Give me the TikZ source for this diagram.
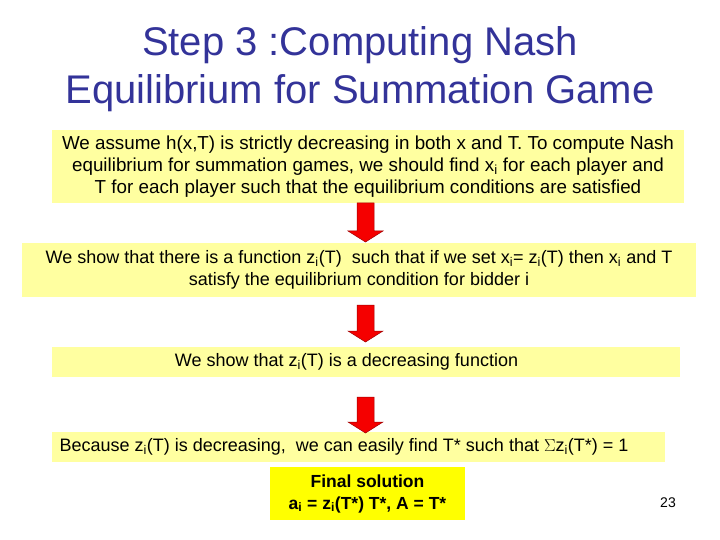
\documentclass[tikz,border=0pt]{standalone}
\usepackage{fontspec}
\setmainfont{Liberation Sans}
\usetikzlibrary{calc}
\definecolor{titleblue}{RGB}{51,51,153}
\definecolor{paleyellow}{RGB}{255,255,160}
\definecolor{brightyellow}{RGB}{255,255,0}
\definecolor{arrowred}{RGB}{245,0,0}
\newcommand{\sbi}{\textsubscript{i}}
\tikzset{
  stepbox/.style={fill=paleyellow, draw=none, align=center, inner sep=0pt, font=\fontsize{18}{22}\selectfont},
  finalbox/.style={fill=brightyellow, draw=none, align=center, inner sep=0pt, font=\fontsize{17.5}{22}\selectfont\bfseries},
  fatarrow/.style={fill=arrowred, draw=arrowred!65!black, line width=0.5pt, line join=miter},
  titletext/.style={text=titleblue, align=center, font=\fontsize{40}{48}\selectfont}
}
\begin{document}
\begin{tikzpicture}[x=1pt,y=-1pt]
\useasboundingbox (0,0) rectangle (720,540);
\node[titletext] (title) at (360,69) {Step 3 :Computing Nash\\Equilibrium for Summation Game};
\node[stepbox, font=\fontsize{18.8}{22}\selectfont, minimum width=632pt, minimum height=73pt] (b1) at (368,166.5)
  {We assume h(x,T) is strictly decreasing in both x and T. To compute Nash\\
   equilibrium for summation games, we should find x\sbi{} for each player and\\
   T for each player such that the equilibrium conditions are satisfied};
\node[stepbox, minimum width=674pt, minimum height=54pt] (b2) at (359,270)
  {We show that there is a function z\sbi(T)\ \ such that if we set x\sbi= z\sbi(T) then x\sbi{} and T\\
   satisfy the equilibrium condition for bidder i};
\node[stepbox, minimum width=628pt, minimum height=30pt] (b3) at (366,362)
  {We show that z\sbi(T) is a decreasing function\kern39pt};
\node[stepbox, minimum width=613pt, minimum height=30pt] (b4) at (358.5,447)
  {Because z\sbi(T) is decreasing,\ \ we can easily find T* such that $\Sigma$z\sbi(T*) = 1\kern29pt};
\node[finalbox, minimum width=195pt, minimum height=53pt] (b5) at (367.5,493.5)
  {Final solution\\a\sbi{} = z\sbi(T*) T*, A = T*};
\coordinate (a1t) at (365.5,203);
\coordinate (a1b) at (365.5,242);
\coordinate (a2t) at (365.5,305);
\coordinate (a2b) at (365.5,342);
\coordinate (a3t) at (365.5,397);
\coordinate (a3b) at (365.5,433);
\draw[fatarrow] (a1b) -- ++(17.5,-11) -- ++(-9,0) -- ($(a1t)+(8.5,0)$) -- ($(a1t)+(-8.5,0)$) -- ($(a1b)+(-8.5,-11)$) -- ++(-9,0) -- cycle;
\draw[fatarrow] (a2b) -- ++(17.5,-11) -- ++(-9,0) -- ($(a2t)+(8.5,0)$) -- ($(a2t)+(-8.5,0)$) -- ($(a2b)+(-8.5,-11)$) -- ++(-9,0) -- cycle;
\draw[fatarrow] (a3b) -- ++(17.5,-11) -- ++(-9,0) -- ($(a3t)+(8.5,0)$) -- ($(a3t)+(-8.5,0)$) -- ($(a3b)+(-8.5,-11)$) -- ++(-9,0) -- cycle;
\node[font=\fontsize{14}{16}\selectfont] (pg) at (668,503) {23};
\end{tikzpicture}
\end{document}
